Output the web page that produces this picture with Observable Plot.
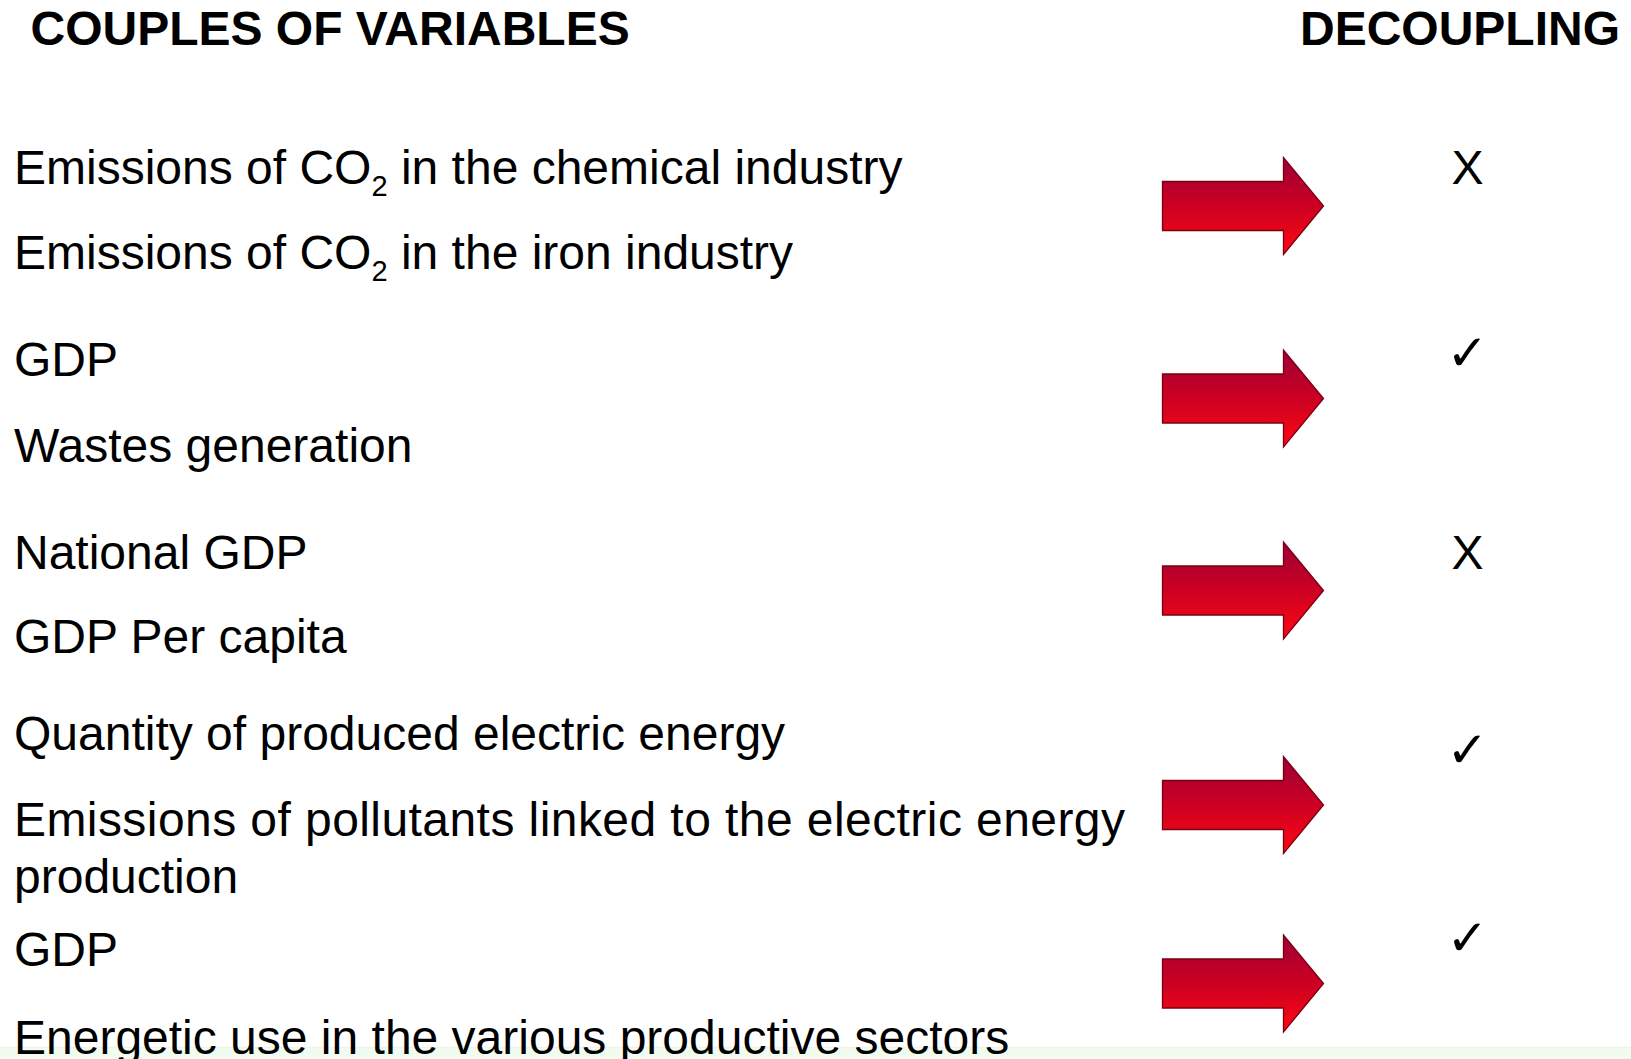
<!DOCTYPE html>
<html><head><meta charset="utf-8">
<script src="https://cdn.jsdelivr.net/npm/d3@7"></script>
<script src="https://cdn.jsdelivr.net/npm/@observablehq/plot@0.6"></script>
<style>html,body{margin:0;padding:0;background:#fff;overflow:hidden;}</style>
</head><body><div id="chart"></div>
<script>
// ---- data ----
const headers = ["COUPLES OF VARIABLES", "DECOUPLING"];
const firstVariable = [
  "Emissions of CO2 in the chemical industry",
  "GDP",
  "National GDP",
  "Quantity of produced electric energy",
  "GDP"
];
const secondVariable = [
  "Emissions of CO2 in the iron industry",
  "Wastes generation",
  "GDP Per capita",
  "Emissions of pollutants linked to the electric energy production",
  "Energetic use in the various productive sectors"
];
const decoupling = [false, true, false, true, true];

// ---- layout (pixels) ----
const W = 1631, H = 1059;
const FONT = "Liberation Sans, Arial, Helvetica, sans-serif";
const textX = 13.5;
const lineBaseline = [[183, 268], [375, 461], [568, 652], [749, 892], [965, 1053]];
const arrowX = 1242.5, arrowR = 48.5;
const arrowY = [205.5, 398, 590, 804.5, 983];
const markX = 1467;
const markBaseline = [183, 369, 568, 766, 954];

const rows = [];
firstVariable.forEach((t, i) => rows.push({text: t, y: lineBaseline[i][0]}));
secondVariable.forEach((t, i) => rows.push({text: t, y: lineBaseline[i][1]}));
const arrows = decoupling.map((d, i) => ({y: arrowY[i]}));
const marks = decoupling.map((d, i) => ({text: d ? "\u2713" : "X", y: markBaseline[i], ok: d}));

// arrow symbol (size = r^2 * PI)
const arrowSymbol = {
  draw(ctx, size) {
    const r = Math.sqrt(size / Math.PI);
    const L = 1.66 * r, hb = 0.835 * r, s = 0.505 * r;
    ctx.moveTo(-L, -s);
    ctx.lineTo(hb, -s);
    ctx.lineTo(hb, -r);
    ctx.lineTo(L, 0);
    ctx.lineTo(hb, r);
    ctx.lineTo(hb, s);
    ctx.lineTo(-L, s);
    ctx.closePath();
  }
};

const svg = Plot.plot({
  width: W, height: H, margin: 0,
  x: {domain: [0, W], range: [0, W], axis: null},
  y: {domain: [0, H], range: [0, H], axis: null},
  style: {background: "#fff", fontFamily: FONT, color: "#000"},
  marks: [
    Plot.rect([{}], {x1: 0, x2: W, y1: 1047, y2: H, fill: "#f0fcf0"}),
    Plot.ruleY([1047], {stroke: "#f6f1e8", strokeWidth: 1.5}),
    Plot.text([headers[0]], {x: 30, y: 44, text: d => d, textAnchor: "start", lineAnchor: "bottom", fontSize: 48, fontWeight: "bold", fontFamily: FONT, fill: "#000"}),
    Plot.text([headers[1]], {x: 1619.5, y: 44, text: d => d, textAnchor: "end", lineAnchor: "bottom", fontSize: 48, fontWeight: "bold", fontFamily: FONT, fill: "#000"}),
    Plot.text(rows, {x: textX, y: "y", text: "text", textAnchor: "start", lineAnchor: "bottom", fontSize: 48, fontFamily: FONT, lineWidth: 26.5, lineHeight: 1.17, fill: "#000"}),
    Plot.dot(arrows, {x: arrowX, y: "y", r: arrowR, symbol: arrowSymbol, fill: "#cc0020", stroke: "#7a0010", strokeWidth: 1.3}),
    Plot.text(marks.filter(d => !d.ok), {x: markX, y: "y", text: "text", textAnchor: "middle", lineAnchor: "bottom", fontSize: 48, fontFamily: FONT, fill: "#000"}),
    Plot.text(marks.filter(d => d.ok), {x: markX, y: "y", text: "text", textAnchor: "middle", lineAnchor: "bottom", fontSize: 50, fontWeight: "bold", fontFamily: "DejaVu Sans", fill: "#000"})
  ]
});

// gradient for arrows
const ns = "http://www.w3.org/2000/svg";
const defs = document.createElementNS(ns, "defs");
defs.innerHTML = '<linearGradient id="arrowFill" x1="0" y1="0" x2="0" y2="1">' +
  '<stop offset="0" stop-color="#9c0038"/>' +
  '<stop offset="0.5" stop-color="#cc0022"/>' +
  '<stop offset="1" stop-color="#ff0812"/></linearGradient>';
svg.insertBefore(defs, svg.firstChild);
svg.querySelectorAll('g[aria-label="dot"] path').forEach(p => p.setAttribute("fill", "url(#arrowFill)"));

// CO2 subscripts and justified line
svg.querySelectorAll("text").forEach(function (el) {
  const tspans = el.querySelectorAll("tspan");
  if (tspans.length > 1) {
    tspans[0].setAttribute("textLength", 1111);
    tspans[0].setAttribute("lengthAdjust", "spacing");
    return;
  }
  const t = el.textContent;
  const k = t.indexOf("CO2");
  if (k >= 0) {
    el.textContent = "";
    const a = document.createElementNS(ns, "tspan"); a.textContent = t.slice(0, k + 2);
    const b = document.createElementNS(ns, "tspan"); b.textContent = "2";
    b.setAttribute("font-size", 29); b.setAttribute("dy", 12);
    const c = document.createElementNS(ns, "tspan"); c.textContent = t.slice(k + 3);
    c.setAttribute("dy", -12);
    el.append(a, b, c);
  }
});

document.getElementById("chart").append(svg);
</script>
</body></html>
